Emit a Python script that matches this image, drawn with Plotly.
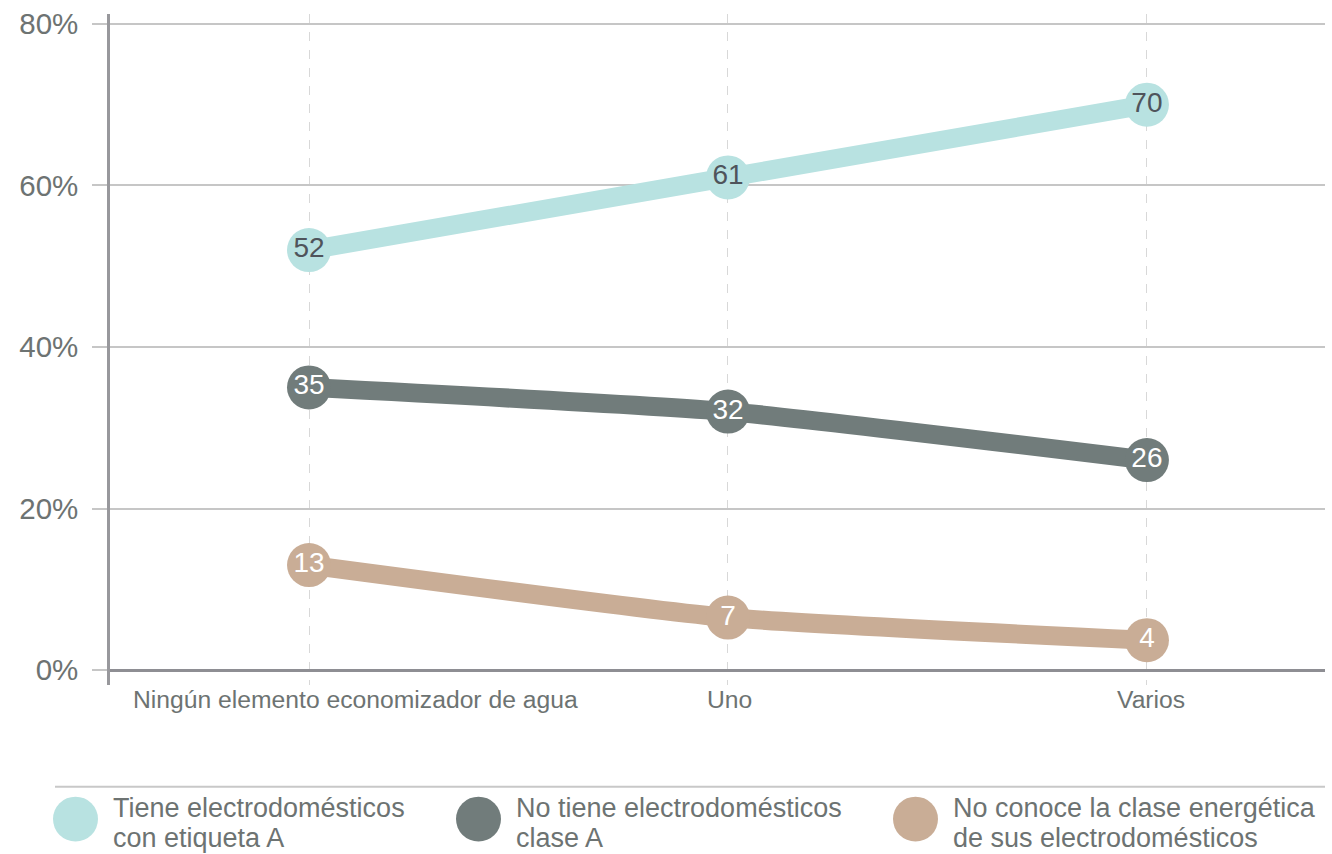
import plotly.graph_objects as go

categories = ["Ningún elemento economizador de agua", "Uno", "Varios"]
legend_line1 = ["Tiene electrodomésticos", "No tiene electrodomésticos", "No conoce la clase energética"]
legend_line2 = ["con etiqueta A", "clase A", "de sus electrodomésticos"]
tiene_a = [52, 61, 70]
no_tiene_a = [35, 32, 26]
no_conoce = [13, 6.5, 3.7]
tiene_a_labels = ["52", "61", "70"]
no_tiene_a_labels = ["35", "32", "26"]
no_conoce_labels = ["13", "7", "4"]
y_ticks = [0, 20, 40, 60, 80]
y_tick_labels = ["0%", "20%", "40%", "60%", "80%"]

colors = ["#b8e2e1", "#717c7b", "#c9ad96"]
label_colors = ["#4f545b", "#ffffff", "#ffffff"]

W, H = 1332, 854
ML, MR, MT, MB = 110, 7, 12, 169
PW = W - ML - MR
PH = H - MT - MB
FONT = "Liberation Sans, Arial, sans-serif"
TXT = "#6d7372"


def px(x):
    return (x - ML) / PW


def py(y):
    return (H - MB - y) / PH


fig = go.Figure()
xs = list(range(len(categories)))
for vals, labels, col, lcol in [
    (tiene_a, tiene_a_labels, colors[0], label_colors[0]),
    (no_tiene_a, no_tiene_a_labels, colors[1], label_colors[1]),
    (no_conoce, no_conoce_labels, colors[2], label_colors[2]),
]:
    fig.add_trace(go.Scatter(
        x=xs, y=vals, mode="lines+markers+text",
        line=dict(color=col, width=19, shape="spline", smoothing=0.5),
        marker=dict(color=col, size=44, line=dict(width=0)),
        text=labels, textposition="middle center",
        textfont=dict(family=FONT, size=28, color=lcol),
        showlegend=False, hoverinfo="skip", cliponaxis=False,
    ))

fig.update_layout(
    width=W, height=H,
    margin=dict(l=ML, r=MR, t=MT, b=MB),
    plot_bgcolor="white", paper_bgcolor="white",
    font=dict(family=FONT, color=TXT),
    xaxis=dict(
        range=[-0.475, 2.425], tickvals=xs, ticktext=["", "", ""],
        showgrid=True, gridcolor="#d8d8d8", gridwidth=1, griddash="dash",
        showline=False, zeroline=False, ticks="",
        fixedrange=True,
    ),
    yaxis=dict(
        range=[-1.85, 81.23], tickvals=y_ticks, ticktext=y_tick_labels,
        showgrid=True, gridcolor="#c6c6c6", gridwidth=2,
        showline=True, linecolor="#98989c", linewidth=2.5,
        zeroline=True, zerolinecolor="#8e8e93", zerolinewidth=2.5,
        ticks="outside", ticklen=15, tickcolor="#c6c6c6", tickwidth=2,
        ticklabelstandoff=8,
        tickfont=dict(size=29.5, color=TXT),
        fixedrange=True,
    ),
)

shapes = [dict(type="line", xref="paper", yref="paper",
               x0=px(55), x1=px(1325), y0=py(787), y1=py(787),
               line=dict(color="#c8c8c8", width=2))]
annotations = []
# category labels (first one sits shifted right in the reference)
label_shift = [46, 2, 4]
for i, cat in enumerate(categories):
    annotations.append(dict(xref="x", yref="paper", x=xs[i], y=py(700), xshift=label_shift[i],
                            xanchor="center", yanchor="middle", text=cat, showarrow=False,
                            font=dict(size=24.7, color=TXT)))
legend_x = [53, 456, 893]
for i, lx in enumerate(legend_x):
    shapes.append(dict(type="circle", xref="paper", yref="paper",
                       x0=px(lx), x1=px(lx + 45), y0=py(842), y1=py(797),
                       fillcolor=colors[i], line=dict(width=0)))
    for txt, yy in [(legend_line1[i], 808), (legend_line2[i], 838)]:
        annotations.append(dict(xref="paper", yref="paper", x=px(lx + 58), y=py(yy),
                                xanchor="left", yanchor="middle", align="left",
                                text=txt, showarrow=False,
                                font=dict(size=27, color=TXT)))
fig.update_layout(shapes=shapes, annotations=annotations)

fig.write_html("out.html", config={"displayModeBar": False},
               post_script="document.body.style.margin='0';")
